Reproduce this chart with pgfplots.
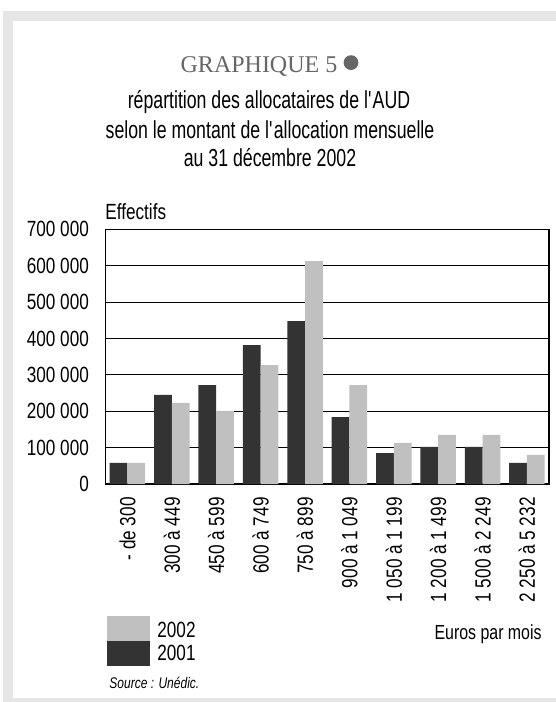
\documentclass[border=0pt]{standalone}
\usepackage{fontspec}
\setmainfont{Liberation Sans}[FakeStretch=0.78]
\newfontfamily\titlesans{Liberation Sans}[FakeStretch=0.72]
\newfontfamily\titleserif{Liberation Serif}
\usepackage{pgfplots}
\pgfplotsset{compat=1.18}

\definecolor{frame}{HTML}{E6E6E6}
\definecolor{dark}{HTML}{333333}
\definecolor{light}{HTML}{C0C0C0}
\definecolor{titlegrey}{HTML}{666666}

\begin{document}
\begin{tikzpicture}[font=\fontsize{11}{13}\selectfont]
% 1 px of the reference = 0.5pt
\path[use as bounding box, fill=white] (0,0) rectangle (278pt,-351pt);
\fill[frame] (1.5pt,-5.5pt) rectangle (278pt,-351pt);
\fill[white] (6.5pt,-10.5pt) rectangle (278pt,-349pt);

\node[anchor=base, text=titlegrey, font=\titleserif\fontsize{12}{14}\selectfont] at (129.5pt,-36pt) {GRAPHIQUE 5};
\fill[titlegrey] (175.5pt,-31.3pt) circle (3.7pt);

\node[anchor=base, font=\titlesans\fontsize{12.3}{14}\selectfont] at (134.5pt,-54pt) {répartition des allocataires de l\textquotesingle AUD};
\node[anchor=base, font=\titlesans\fontsize{12.3}{14}\selectfont] at (135pt,-69pt) {selon le montant de l\textquotesingle allocation mensuelle};
\node[anchor=base, font=\titlesans\fontsize{12.3}{14}\selectfont] at (135pt,-83pt) {au 31 décembre 2002};

\node[anchor=base west, inner sep=0pt] at (52.5pt,-109.5pt) {Effectifs};

\begin{axis}[
  at={(52.65pt,-242pt)}, anchor=south west,
  scale only axis, width=221.9pt, height=127.3pt,
  ybar=0pt, bar width=0.4,
  xmin=-0.5, xmax=9.5, ymin=0, ymax=700000,
  xtick={0,...,9},
  xticklabels={- de 300, 300 à 449, 450 à 599, 600 à 749, 750 à 899, 900 à 1 049, 1 050 à 1 199, 1 200 à 1 499, 1 500 à 2 249, 2 250 à 5 232},
  ytick={0,100000,...,700000},
  yticklabels={0, 100 000, 200 000, 300 000, 400 000, 500 000, 600 000, 700 000},
  scaled y ticks=false,
  major tick length=0pt,
  xticklabel style={rotate=90, anchor=east, inner sep=0pt},
  xticklabel shift=6.5pt,
  yticklabel style={anchor=east, inner sep=0pt},
  yticklabel shift=8pt,
  ymajorgrids,
  grid style={black, line width=0.5pt},
  axis line style={black, line width=0.7pt},
]
\addplot[fill=dark, draw=none] coordinates {
  (0,58000) (1,245000) (2,272000) (3,382000) (4,448000)
  (5,184000) (6,85000) (7,102000) (8,102000) (9,58000)
};
\addplot[fill=light, draw=none] coordinates {
  (0,58000) (1,223000) (2,201000) (3,327000) (4,613000)
  (5,272000) (6,113000) (7,135000) (8,135000) (9,80000)
};
\end{axis}

\fill[light] (53.5pt,-308pt) rectangle (75pt,-320.5pt);
\fill[dark] (53.5pt,-320.5pt) rectangle (75pt,-333pt);
\node[anchor=base west, inner sep=0pt] at (78.5pt,-318.5pt) {2002};
\node[anchor=base west, inner sep=0pt] at (78.5pt,-330pt) {2001};
\node[anchor=base east, inner sep=0pt, font=\fontsize{10.2}{12}\selectfont] at (271pt,-319.5pt) {Euros par mois};
\node[anchor=base west, inner sep=0pt, font=\itshape\fontsize{7.7}{9}\selectfont] at (54.5pt,-344pt) {Source : Unédic.};
\end{tikzpicture}
\end{document}
